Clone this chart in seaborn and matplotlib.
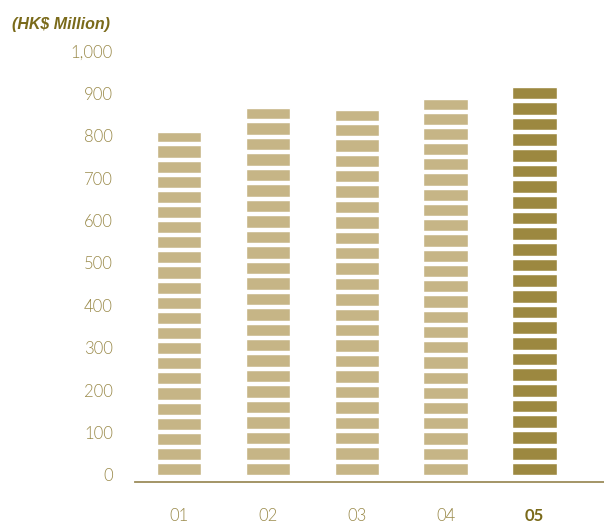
import numpy as np
import pandas as pd
import seaborn as sns
import matplotlib.pyplot as plt

# values
years = ["01", "02", "03", "04", "05"]
profit = [810, 865, 862, 888, 914]
yticks = [0, 100, 200, 300, 400, 500, 600, 700, 800, 900, 1000]

light = "#c6b586"
dark = "#9c8840"
text_col = "#9a8a4a"

df = pd.DataFrame({"year": years, "value": profit})

sns.set_theme(style="white")
plt.rcParams["font.family"] = ["Lato", "DejaVu Sans"]

fig = plt.figure(figsize=(6.04, 5.23), dpi=100)
ax = fig.add_axes([135 / 604, 0.0789, 1 - 135 / 604, 0.8446])

sns.barplot(data=df, x="year", y="value", hue="year",
            palette=[light, light, light, light, dark],
            width=0.5, legend=False, ax=ax, zorder=2, saturation=1)

# white gaps cutting each bar into stripes of about equal size
gap, period = 10.5, 36.3
for p in ax.patches:
    h = p.get_height()
    n = int(round((h + gap) / period))
    s = (h - (n - 1) * gap) / n
    ys = np.arange(1, n) * (s + gap) - gap / 2
    ax.hlines(ys, p.get_x() - 0.01, p.get_x() + p.get_width() + 0.01,
              color="white", lw=3.2, zorder=3)

ax.set_ylim(-16, 1026)
ax.set_xlim(-0.494, 4.78)
ax.set_yticks(yticks)
ax.set_yticklabels([f"{v:,}" for v in yticks])
ax.set_xlabel("")
ax.set_ylabel("")

for s in ["top", "right", "left"]:
    ax.spines[s].set_visible(False)
ax.spines["bottom"].set_color("#9c8c5a")
ax.spines["bottom"].set_linewidth(1.3)

ax.tick_params(axis="y", length=0, pad=16, labelsize=12, labelcolor=text_col)
ax.tick_params(axis="x", length=0, pad=19, labelsize=12, labelcolor=text_col)
for lab in ax.get_yticklabels() + ax.get_xticklabels():
    lab.set_fontweight(300)
last = ax.get_xticklabels()[-1]
last.set_fontweight("bold")
last.set_color("#7a6a1a")

fig.text(12 / 604, 1 - 25 / 523, "(HK$ Million)", fontsize=11.5,
         fontweight="bold", fontstyle="italic", color="#7a6a1a",
         va="center", ha="left", family=["Liberation Sans", "DejaVu Sans"])

fig.savefig("out.png", dpi=100)
